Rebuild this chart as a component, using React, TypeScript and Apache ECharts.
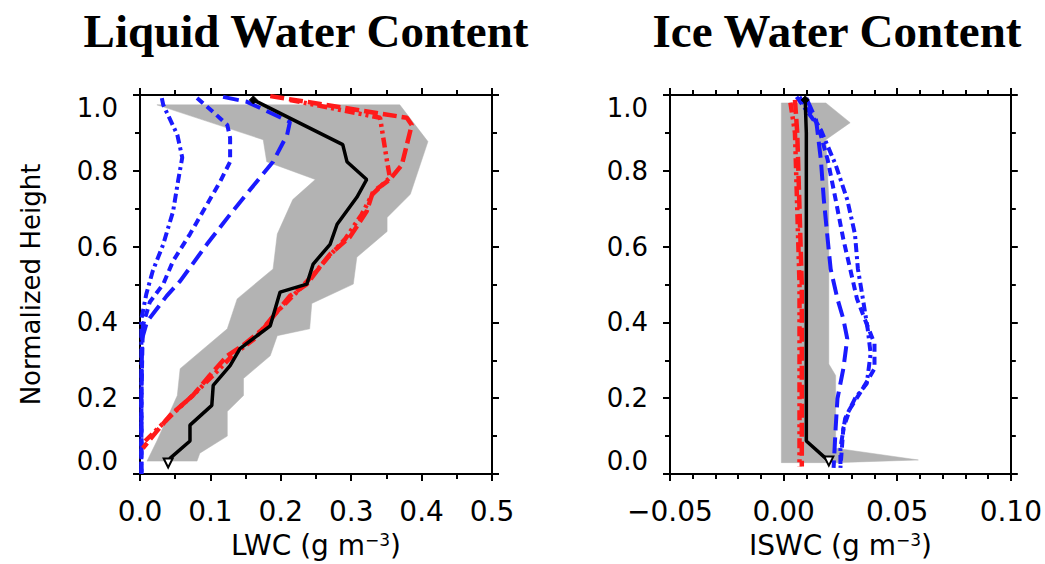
import React, { useEffect, useRef } from 'react';
import * as echarts from 'echarts';

type P = [number, number]; // [water content, normalized height]

// ---------- Liquid water content panel ----------
const lwcRangeLeft: P[] = [
  [0.024, 0.974], [0.175, 0.882], [0.18, 0.824], [0.249, 0.777], [0.217, 0.724],
  [0.195, 0.633], [0.189, 0.541], [0.138, 0.462], [0.124, 0.383], [0.057, 0.278],
  [0.053, 0.207], [0.024, 0.087], [0.01, 0.034],
];
const lwcRangeRight: P[] = [
  [0.081, 0.034], [0.085, 0.055], [0.124, 0.1], [0.124, 0.165], [0.147, 0.207],
  [0.147, 0.252], [0.185, 0.312], [0.195, 0.365], [0.241, 0.383], [0.244, 0.45],
  [0.303, 0.501], [0.308, 0.572], [0.351, 0.64], [0.351, 0.677], [0.384, 0.738],
  [0.409, 0.877], [0.369, 0.974],
];
const lwcObserved: P[] = [
  [0.161, 0.987], [0.288, 0.869], [0.294, 0.824], [0.322, 0.777], [0.308, 0.73],
  [0.28, 0.659], [0.27, 0.606], [0.246, 0.554], [0.237, 0.501], [0.199, 0.48],
  [0.185, 0.391], [0.142, 0.331], [0.128, 0.286], [0.104, 0.234], [0.102, 0.181],
  [0.071, 0.129], [0.071, 0.087], [0.043, 0.042], [0.04, 0.029],
];
const lwcRedDash: P[] = [
  [0.185, 0.997], [0.379, 0.94], [0.386, 0.921], [0.372, 0.816], [0.355, 0.777],
  [0.331, 0.745], [0.322, 0.693], [0.298, 0.625], [0.27, 0.58], [0.251, 0.535],
  [0.237, 0.501], [0.213, 0.47], [0.175, 0.383], [0.146, 0.339], [0.124, 0.312],
  [0.099, 0.26], [0.075, 0.207], [0.043, 0.155], [0.024, 0.113], [0.004, 0.068],
];
const lwcRedDashDot: P[] = [
  [0.213, 0.987], [0.341, 0.94], [0.351, 0.824], [0.355, 0.782], [0.33, 0.738],
  [0.315, 0.685], [0.291, 0.619], [0.267, 0.572], [0.247, 0.528], [0.227, 0.488],
  [0.192, 0.423], [0.163, 0.357], [0.131, 0.312], [0.102, 0.257], [0.078, 0.213],
  [0.05, 0.165], [0.026, 0.121], [0.004, 0.081],
];
const lwcBlueDashDot: P[] = [
  [0.031, 0.992], [0.033, 0.974], [0.053, 0.895], [0.06, 0.835], [0.054, 0.772],
  [0.047, 0.693], [0.033, 0.606], [0.018, 0.535], [0.009, 0.475], [0.002, 0.409],
  [0.002, 0.2], [0.002, 0.0],
];
const lwcBlueShortDash: P[] = [
  [0.081, 0.992], [0.104, 0.955], [0.124, 0.921], [0.128, 0.887], [0.128, 0.824],
  [0.114, 0.772], [0.095, 0.711], [0.071, 0.633], [0.047, 0.562], [0.033, 0.501],
  [0.014, 0.454], [0.004, 0.391], [0.002, 0.2], [0.002, 0.0],
];
const lwcBlueLongDash: P[] = [
  [0.118, 0.995], [0.152, 0.982], [0.213, 0.929], [0.209, 0.895], [0.189, 0.824],
  [0.166, 0.772], [0.128, 0.685], [0.095, 0.606], [0.057, 0.509], [0.038, 0.47],
  [0.024, 0.436], [0.01, 0.402], [0.003, 0.357], [0.002, 0.2], [0.002, 0.0],
];

// ---------- Ice water content panel ----------
const iwcRangeLeft: P[] = [[-0.001, 0.979], [-0.001, 0.03]];
const iwcRangeRight: P[] = [
  [0.0229, 0.03], [0.0593, 0.037], [0.0229, 0.068], [0.0229, 0.26], [0.0199, 0.29],
  [0.0199, 0.724], [0.0186, 0.882], [0.0293, 0.927], [0.0186, 0.979],
];
const iwcObserved: P[] = [
  [0.0095, 0.987], [0.01, 0.9], [0.01, 0.7], [0.01, 0.5], [0.01, 0.3], [0.01, 0.087], [0.0199, 0.034],
];
const iwcRedDash: P[] = [
  [0.005, 0.987], [0.006, 0.9], [0.007, 0.7], [0.008, 0.5], [0.008, 0.3], [0.008, 0.1], [0.008, 0.02],
];
const iwcRedDashDot: P[] = [
  [0.003, 0.98], [0.005, 0.9], [0.006, 0.7], [0.007, 0.5], [0.007, 0.3], [0.007, 0.1], [0.007, 0.02],
];
const iwcBlueLongDash: P[] = [
  [0.01, 0.992], [0.0143, 0.934], [0.0164, 0.829], [0.0177, 0.724], [0.0194, 0.619],
  [0.0207, 0.541], [0.0237, 0.462], [0.0263, 0.409], [0.028, 0.357], [0.0263, 0.278],
  [0.0237, 0.199], [0.0229, 0.121], [0.022, 0.016],
];
const iwcBlueShortDash: P[] = [
  [0.007, 0.995], [0.0151, 0.921], [0.0194, 0.829], [0.0229, 0.724], [0.0263, 0.619],
  [0.0293, 0.541], [0.0323, 0.462], [0.0357, 0.409], [0.04, 0.344], [0.04, 0.278],
  [0.0349, 0.226], [0.0293, 0.173], [0.0263, 0.121], [0.025, 0.016],
];
const iwcBlueDashDot: P[] = [
  [0.0057, 0.995], [0.0164, 0.908], [0.0229, 0.816], [0.028, 0.724], [0.0314, 0.633],
  [0.0327, 0.541], [0.0349, 0.462], [0.037, 0.383], [0.0383, 0.318], [0.0366, 0.239],
  [0.0314, 0.199], [0.0271, 0.147], [0.025, 0.068], [0.025, 0.016],
];

const titles = ['Liquid Water Content', 'Ice Water Content'];
const yName = 'Normalized Height';

const FONT = '"DejaVu Sans", sans-serif';
const BLUE = '#1a1aff';
const RED = '#ff1a1a';
const GRAY = '#b3b3b3';
const DASH_DOT = [9, 4, 3, 4];
const SHORT_DASH = [8, 5];
const LONG_DASH = [16, 7];
const RED_DASH = [14, 5];
const RED_DASH_DOT = [10, 4, 3, 4, 3, 4];

function band(left: P[], right: P[], xi: number, yi: number) {
  const pts = left.concat(right);
  return {
    type: 'custom',
    xAxisIndex: xi,
    yAxisIndex: yi,
    z: 1,
    silent: true,
    data: [pts[0]],
    renderItem: (_params: any, api: any) => ({
      type: 'polygon',
      shape: { points: pts.map((p) => api.coord(p)) },
      style: { fill: GRAY, stroke: GRAY, lineWidth: 0.5 },
    }),
  };
}

function line(data: P[], color: string, dash: number[], width: number, xi: number, yi: number, z: number) {
  return {
    type: 'line',
    xAxisIndex: xi,
    yAxisIndex: yi,
    data,
    z,
    silent: true,
    symbol: 'none',
    showSymbol: false,
    lineStyle: { color, width, type: dash, cap: 'butt' },
  };
}

function observed(data: P[], xi: number, yi: number) {
  const last = data.length - 1;
  return {
    type: 'line',
    xAxisIndex: xi,
    yAxisIndex: yi,
    z: 10,
    silent: true,
    symbol: 'none',
    showSymbol: true,
    showAllSymbol: true,
    lineStyle: { color: '#000', width: 3.5 },
    itemStyle: { color: '#000', borderColor: '#000' },
    data: data.map((p, i) =>
      i === 0
        ? { value: p, symbol: 'diamond', symbolSize: 8 }
        : i === last
        ? { value: p, symbol: 'emptyTriangle', symbolSize: 9, symbolRotate: 180, itemStyle: { borderWidth: 2, borderColor: '#000' } }
        : { value: p, symbol: 'none' }
    ),
  };
}

const axisLineStyle = { show: true, onZero: false, lineStyle: { color: '#000', width: 2 } };
const tickStyle = { show: true, length: 7, lineStyle: { color: '#000', width: 2 } };

function xAxes(grid: number, min: number, max: number, interval: number, minorSplit: number, digits: number, name: string) {
  const fmt = (v: number) => {
    if (Math.abs(v) < 1e-9) return (0).toFixed(digits);
    return (v < 0 ? '\u2212' : '') + Math.abs(v).toFixed(digits);
  };
  const common = {
    gridIndex: grid,
    type: 'value',
    min,
    max,
    interval,
    axisLine: axisLineStyle,
    axisTick: tickStyle,
    minorTick: { show: true, splitNumber: minorSplit, length: 5, lineStyle: { color: '#000', width: 2 } },
    splitLine: { show: false },
    minorSplitLine: { show: false },
  };
  return [
    {
      ...common,
      position: 'bottom',
      axisLabel: { show: true, margin: 23, fontSize: 28, fontFamily: FONT, color: '#000', formatter: fmt },
      name,
      nameLocation: 'middle',
      nameGap: 57,
      nameTextStyle: {
        fontSize: 28,
        fontFamily: FONT,
        color: '#000',
        rich: { sup: { fontSize: 17, fontFamily: FONT, color: '#000', verticalAlign: 'top' } },
      },
    },
    { ...common, position: 'top', axisLabel: { show: false } },
  ];
}

function yAxes(grid: number, withName: boolean) {
  const common = {
    gridIndex: grid,
    type: 'value',
    min: 0,
    max: 1,
    interval: 0.2,
    axisLine: axisLineStyle,
    axisTick: tickStyle,
    minorTick: { show: true, splitNumber: 2, length: 5, lineStyle: { color: '#000', width: 2 } },
    splitLine: { show: false },
    minorSplitLine: { show: false },
  };
  return [
    {
      ...common,
      position: 'left',
      axisLabel: {
        show: true,
        margin: 22,
        fontSize: 26,
        fontFamily: FONT,
        color: '#000',
        formatter: (v: number) => v.toFixed(1),
        verticalAlignMinLabel: 'bottom',
        verticalAlignMaxLabel: 'top',
      },
      name: withName ? yName : '',
      nameLocation: 'middle',
      nameGap: 96,
      nameTextStyle: { fontSize: 26, fontFamily: FONT, color: '#000' },
    },
    { ...common, position: 'right', axisLabel: { show: false } },
  ];
}

export default function App() {
  const ref = useRef<HTMLDivElement>(null);
  useEffect(() => {
    if (!ref.current) return;
    const chart = echarts.init(ref.current, undefined, { renderer: 'svg' });
    chart.setOption({
      animation: false,
      backgroundColor: '#fff',
      grid: [
        { left: 140, top: 95, width: 352, height: 380 },
        { left: 670, top: 95, width: 350, height: 380 },
      ],
      xAxis: [
        ...xAxes(0, 0, 0.5, 0.1, 2, 1, 'LWC (g m{sup|\u22123})'),
        ...xAxes(1, -0.05, 0.1, 0.05, 5, 2, 'ISWC (g m{sup|\u22123})'),
      ],
      yAxis: [...yAxes(0, true), ...yAxes(1, false)],
      graphic: [
        {
          type: 'text',
          x: 306,
          y: 31,
          style: { text: titles[0], font: 'bold 47px "Liberation Serif", serif', fill: '#000', align: 'center', verticalAlign: 'middle' },
        },
        {
          type: 'text',
          x: 837,
          y: 31,
          style: { text: titles[1], font: 'bold 47px "Liberation Serif", serif', fill: '#000', align: 'center', verticalAlign: 'middle' },
        },
      ],
      series: [
        band(lwcRangeLeft, lwcRangeRight, 0, 0),
        line(lwcBlueDashDot, BLUE, DASH_DOT, 4, 0, 0, 3),
        line(lwcBlueShortDash, BLUE, SHORT_DASH, 4, 0, 0, 3),
        line(lwcBlueLongDash, BLUE, LONG_DASH, 4, 0, 0, 3),
        line(lwcRedDashDot, RED, RED_DASH_DOT, 4.5, 0, 0, 4),
        line(lwcRedDash, RED, RED_DASH, 4.5, 0, 0, 4),
        observed(lwcObserved, 0, 0),

        band(iwcRangeLeft, iwcRangeRight, 2, 2),
        line(iwcBlueDashDot, BLUE, DASH_DOT, 4, 2, 2, 3),
        line(iwcBlueShortDash, BLUE, SHORT_DASH, 4, 2, 2, 3),
        line(iwcBlueLongDash, BLUE, LONG_DASH, 4, 2, 2, 3),
        line(iwcRedDashDot, RED, RED_DASH_DOT, 4.5, 2, 2, 4),
        line(iwcRedDash, RED, RED_DASH, 4.5, 2, 2, 4),
        observed(iwcObserved, 2, 2),
      ],
    });
    return () => chart.dispose();
  }, []);
  return <div ref={ref} style={{ position: 'fixed', left: 0, top: 0, width: 1045, height: 564 }} />;
}
